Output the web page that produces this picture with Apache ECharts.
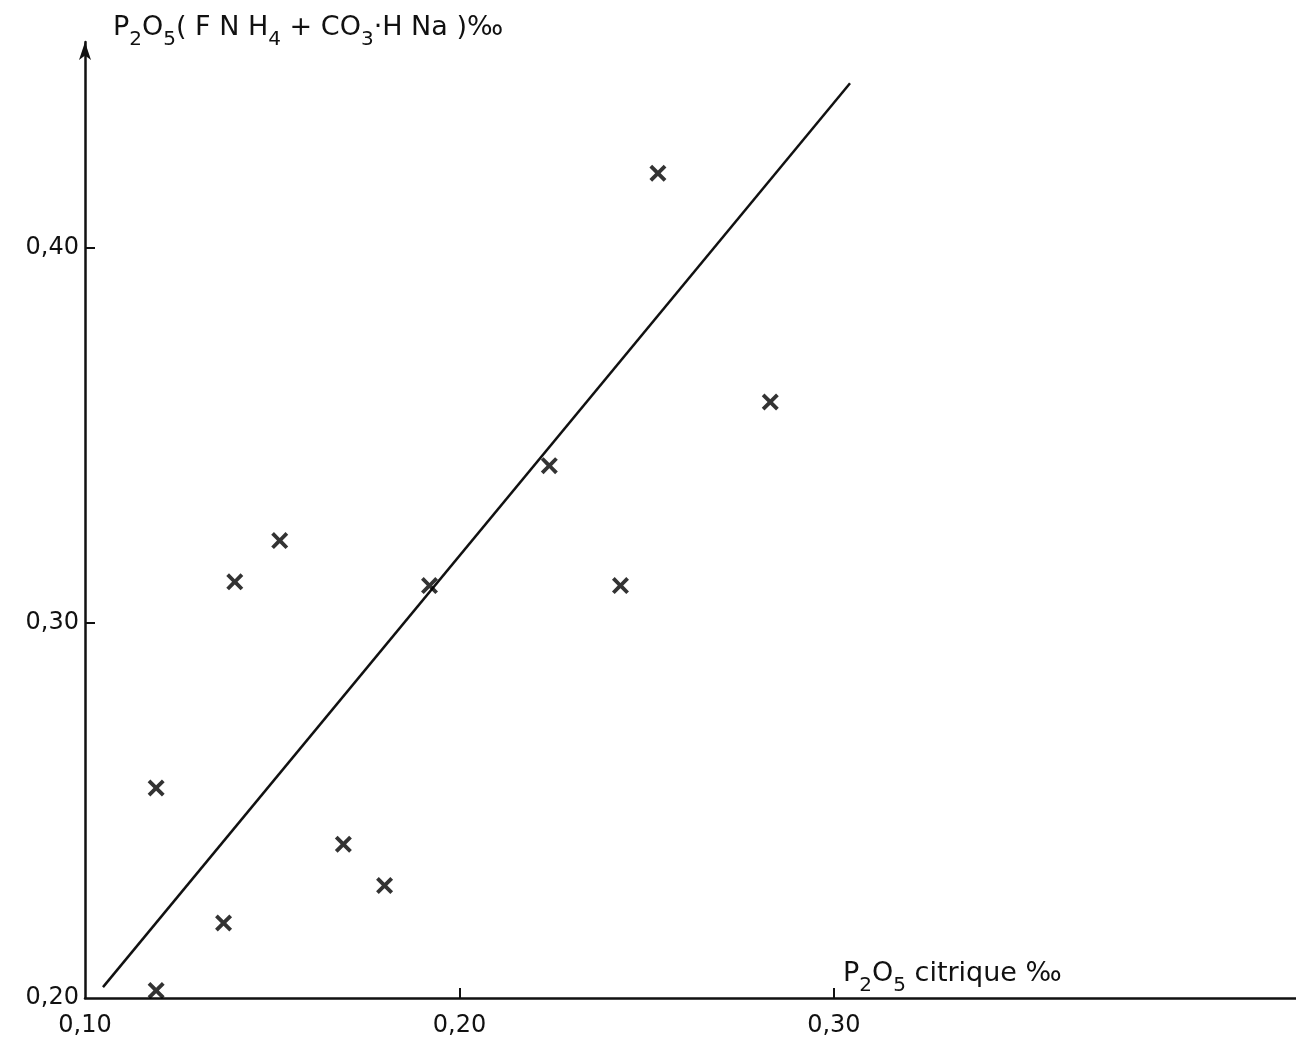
<!DOCTYPE html>
<html lang="fr" style="height:100%">
<head>
    <meta charset="UTF-8">
    <title>P2O5 citrique</title>
</head>
<body style="height: 100%; margin: 0; background: #fff">
<div id="container" style="width:1296px; height:1046px"></div>
<script type="text/javascript" src="https://cdn.jsdelivr.net/npm/echarts@6/dist/echarts.min.js"></script>
<script type="text/javascript">

    // points mesurés (x = P2O5 citrique, y = P2O5 FNH4 + CO3HNa), en ‰
    var citrique = [0.119, 0.137, 0.119, 0.169, 0.180, 0.140, 0.152, 0.192, 0.224, 0.243, 0.253, 0.283];
    var fluorure = [0.202, 0.220, 0.256, 0.241, 0.230, 0.311, 0.322, 0.310, 0.342, 0.310, 0.420, 0.359];

    // droite tracée à la main (deux extrémités)
    var droiteX = [0.1048, 0.3043];
    var droiteY = [0.2029, 0.4440];

    // graduations
    var xLabels = [0.10, 0.20, 0.30];
    var xTicks = [0.20, 0.30];
    var yLabels = [0.20, 0.30, 0.40];
    var yTicks = [0.30, 0.40];

    var points = [];
    for (var i = 0; i < citrique.length; i++) {
        points.push([citrique[i], fluorure[i]]);
    }
    var droite = [];
    for (var j = 0; j < droiteX.length; j++) {
        droite.push([droiteX[j], droiteY[j]]);
    }

    // virgule décimale
    var fmt = function (v) {
        return v.toFixed(2).replace('.', ',');
    };

    var croix = 'path://M0,1.6L1.6,0L5,3.4L8.4,0L10,1.6L6.6,5L10,8.4L8.4,10L5,6.6L1.6,10L0,8.4L3.4,5Z';
    var police = 'DejaVu Sans';

    // texte avec indices
    var richNom = {
        n: { fontFamily: police, fontSize: 27, lineHeight: 32, color: '#111', verticalAlign: 'top' },
        s: { fontFamily: police, fontSize: 20, lineHeight: 20, color: '#111', verticalAlign: 'top', padding: [16, 0, 0, 0] }
    };

    var myChart = echarts.init(document.getElementById('container'));
    var option = {
        backgroundColor: '#ffffff',
        animation: false,
        grid: {
            left: 85,
            right: 0,
            top: 42,
            bottom: 48
        },
        xAxis: {
            type: 'value',
            min: 0.10,
            max: 0.4234,
            interval: 0.1,
            name: '{n|P}{s|2}{n|O}{s|5}{n| citrique ‰}',
            nameLocation: 'end',
            nameGap: -453,
            nameTextStyle: {
                align: 'left',
                verticalAlign: 'bottom',
                padding: [0, 0, 6, 0],
                rich: richNom
            },
            axisLine: { lineStyle: { color: '#111', width: 2.5 } },
            axisTick: { inside: true, length: 10, customValues: xTicks, lineStyle: { color: '#111', width: 2 } },
            axisLabel: {
                customValues: xLabels,
                formatter: fmt,
                margin: 16,
                fontFamily: police,
                fontSize: 24,
                color: '#111'
            },
            splitLine: { show: false }
        },
        yAxis: {
            type: 'value',
            min: 0.20,
            max: 0.455,
            interval: 0.1,
            name: '{n|P}{s|2}{n|O}{s|5}{n|( F N H}{s|4}{n| + CO}{s|3}{n|·H Na )‰}',
            nameLocation: 'end',
            nameGap: 12,
            nameTextStyle: {
                align: 'left',
                verticalAlign: 'middle',
                padding: [0, 0, 0, 28],
                rich: richNom
            },
            axisLine: {
                lineStyle: { color: '#111', width: 2.5 },
                symbol: ['none', 'arrow'],
                symbolSize: [9, 18]
            },
            axisTick: { inside: true, length: 10, customValues: yTicks, lineStyle: { color: '#111', width: 2 } },
            axisLabel: {
                customValues: yLabels,
                formatter: fmt,
                margin: 6,
                fontFamily: police,
                fontSize: 24,
                color: '#111'
            },
            splitLine: { show: false }
        },
        series: [
            {
                name: 'droite',
                type: 'line',
                data: droite,
                showSymbol: false,
                lineStyle: { color: '#111', width: 2.5 },
                z: 2
            },
            {
                name: 'mesures',
                type: 'scatter',
                data: points,
                symbol: croix,
                symbolSize: 17,
                itemStyle: { color: '#000' },
                z: 3
            }
        ]
    };
    myChart.setOption(option);

</script>
</body>
</html>
